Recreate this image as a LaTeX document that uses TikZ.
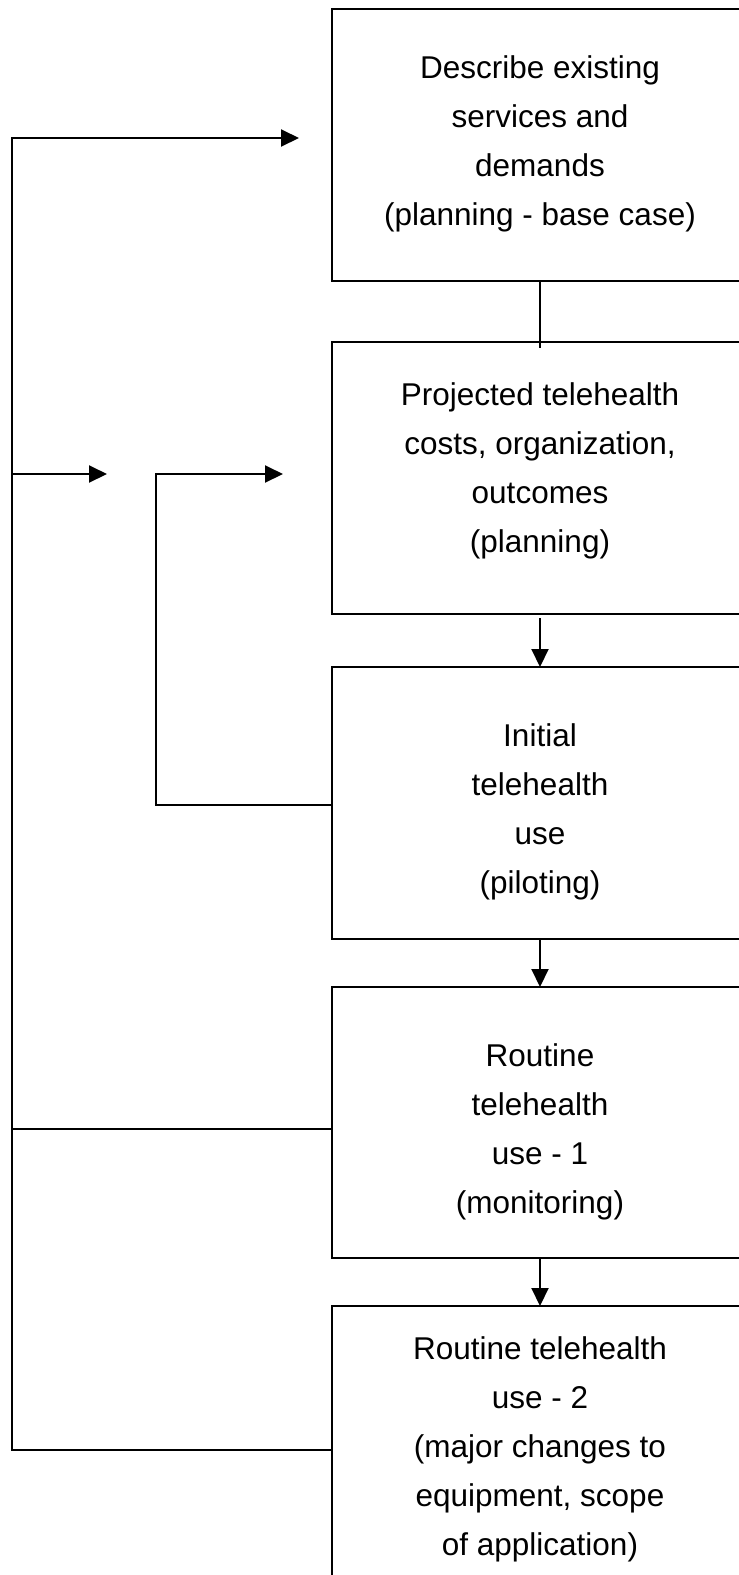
\documentclass[tikz,border=0pt]{standalone}
\usepackage{fontspec}
\setmainfont{Liberation Sans}
\usetikzlibrary{arrows.meta}
\begin{document}
\begin{tikzpicture}[x=1pt,y=-1pt,
  box/.style={draw, line width=2pt, rectangle, minimum width=416pt, anchor=north west, inner sep=0pt, outer sep=0pt},
  txt/.style={align=center, font=\fontsize{31.5}{49}\selectfont, inner sep=0pt},
  line/.style={line width=2pt},
  arr/.style={line width=2pt, -{Triangle[length=18pt,width=17pt]}}]
\useasboundingbox (0,0) rectangle (739,1575);
\clip (0,0) rectangle (739,1575);
\node[box, minimum height=272pt] (b1) at (332,9) {};
\node[box, minimum height=272pt] (b2) at (332,342) {};
\node[box, minimum height=272pt] (b3) at (332,667) {};
\node[box, minimum height=271pt] (b4) at (332,987) {};
\node[box, minimum height=290pt] (b5) at (332,1306) {};
\node[txt] (t1) at (540,143.5) {Describe existing\\services and\\demands\\(planning - base case)};
\node[txt] (t2) at (540,471) {Projected telehealth\\costs, organization,\\outcomes\\(planning)};
\node[txt] (t3) at (540,812) {Initial\\telehealth\\use\\(piloting)};
\node[txt] (t4) at (540,1131.5) {Routine\\telehealth\\use - 1\\(monitoring)};
\node[txt] (t5) at (540,1449) {Routine telehealth\\use - 2\\(major changes to\\equipment, scope\\of application)};
\draw[line] (b1.south) -- ([yshift=-6pt]b2.north);
\draw[arr] ([yshift=-4pt]b2.south) -- (b3.north);
\draw[arr] (b3.south) -- (b4.north);
\draw[arr] (b4.south) -- (b5.north);
\coordinate (e1) at (299,138);
\coordinate (e2) at (107,474);
\coordinate (e3) at (283,474);
\coordinate (k5) at (12,1450);
\coordinate (k4) at (12,1129);
\coordinate (k3) at (156,805);
\draw[arr] (k5 -| b5.west) -- (k5) -- (k5 |- e1) -- (e1);
\draw[line] (k4 -| b4.west) -- (k4);
\draw[arr] (k4 |- e2) -- (e2);
\draw[arr] (k3 -| b3.west) -- (k3) -- (k3 |- e3) -- (e3);
\end{tikzpicture}
\end{document}
